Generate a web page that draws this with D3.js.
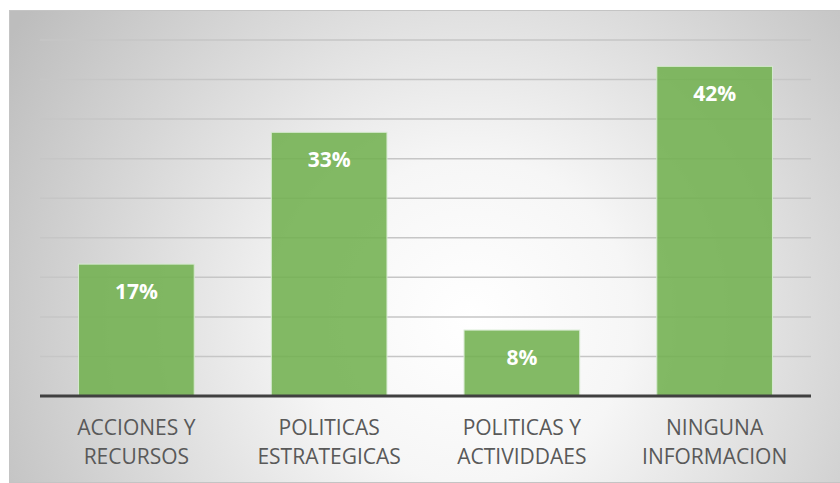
<!DOCTYPE html>
<html>
<head>
<meta charset="utf-8">
<script src="https://cdn.jsdelivr.net/npm/d3@7"></script>
<style>
  html, body { margin: 0; padding: 0; background: #fff; }
  #chart { width: 840px; height: 483px; }
</style>
</head>
<body>
<div id="chart"></div>
<script>
// --------------- Data ---------------
const categories = [
  ["ACCIONES Y", "RECURSOS"],
  ["POLITICAS", "ESTRATEGICAS"],
  ["POLITICAS Y", "ACTIVIDDAES"],
  ["NINGUNA", "INFORMACION"],
];
const values = [16.67, 33.33, 8.33, 41.67];
const labels = ["17%", "33%", "8%", "42%"];
const yTicks = [0, 5, 10, 15, 20, 25, 30, 35, 40, 45];

// --------------- Constants ---------------
const WIDTH = 840;
const HEIGHT = 483;
const PLOT = { left: 40, right: 811, top: 40, bottom: 396 };

const svg = d3
  .select("#chart")
  .append("svg")
  .attr("width", WIDTH)
  .attr("height", HEIGHT);

// background gradient
const defs = svg.append("defs");
const grad = defs
  .append("radialGradient")
  .attr("id", "bg")
  .attr("gradientUnits", "userSpaceOnUse")
  .attr("cx", 470)
  .attr("cy", 320)
  .attr("r", 540);
grad.append("stop").attr("offset", "0%").attr("stop-color", "#ffffff");
grad.append("stop").attr("offset", "30%").attr("stop-color", "#f6f6f6");
grad.append("stop").attr("offset", "100%").attr("stop-color", "#bdbdbd");

svg
  .append("rect")
  .attr("x", 9.5)
  .attr("y", 10.5)
  .attr("width", WIDTH)
  .attr("height", 472)
  .attr("fill", "url(#bg)")
  .attr("stroke", "#c4c4c4")
  .attr("stroke-width", 1);

// --------------- Scales ---------------
const x = d3
  .scaleBand()
  .domain(d3.range(categories.length))
  .range([PLOT.left, PLOT.right])
  .paddingInner(0.4)
  .paddingOuter(0.2);

const y = d3.scaleLinear().domain([0, 45]).range([PLOT.bottom, PLOT.top]);

// gridlines
svg
  .append("g")
  .selectAll("line")
  .data(yTicks.slice(1))
  .join("line")
  .attr("x1", PLOT.left)
  .attr("x2", PLOT.right)
  .attr("y1", (d) => y(d))
  .attr("y2", (d) => y(d))
  .attr("stroke", "#c6c6c6")
  .attr("stroke-width", 1.5);

// bars
svg
  .append("g")
  .selectAll("rect")
  .data(values)
  .join("rect")
  .attr("x", (d, i) => x(i))
  .attr("y", (d) => y(d))
  .attr("width", x.bandwidth())
  .attr("height", (d) => y(0) - y(d))
  .attr("fill", "#72b150")
  .attr("fill-opacity", 0.88)
  .attr("stroke", "#d6ead0")
  .attr("stroke-width", 1);

// data labels
svg
  .append("g")
  .selectAll("text")
  .data(values)
  .join("text")
  .attr("x", (d, i) => x(i) + x.bandwidth() / 2)
  .attr("y", (d) => y(d) + 35)
  .attr("text-anchor", "middle")
  .attr("font-family", "'Open Sans', sans-serif")
  .attr("font-weight", "bold")
  .attr("font-size", 21)
  .attr("fill", "#ffffff")
  .text((d, i) => labels[i]);

// axis baseline
svg
  .append("line")
  .attr("x1", PLOT.left)
  .attr("x2", PLOT.right)
  .attr("y1", y(0))
  .attr("y2", y(0))
  .attr("stroke", "#404040")
  .attr("stroke-width", 3);

// category labels
const catG = svg
  .append("g")
  .selectAll("text")
  .data(categories)
  .join("text")
  .attr("text-anchor", "middle")
  .attr("font-family", "'Open Sans', sans-serif")
  .attr("font-size", 21)
  .attr("fill", "#595959");

catG
  .selectAll("tspan")
  .data((d, i) => d.map((t) => ({ t, i })))
  .join("tspan")
  .attr("x", (d) => x(d.i) + x.bandwidth() / 2)
  .attr("y", (d, j) => 435 + j * 29)
  .text((d) => d.t);
</script>
</body>
</html>
